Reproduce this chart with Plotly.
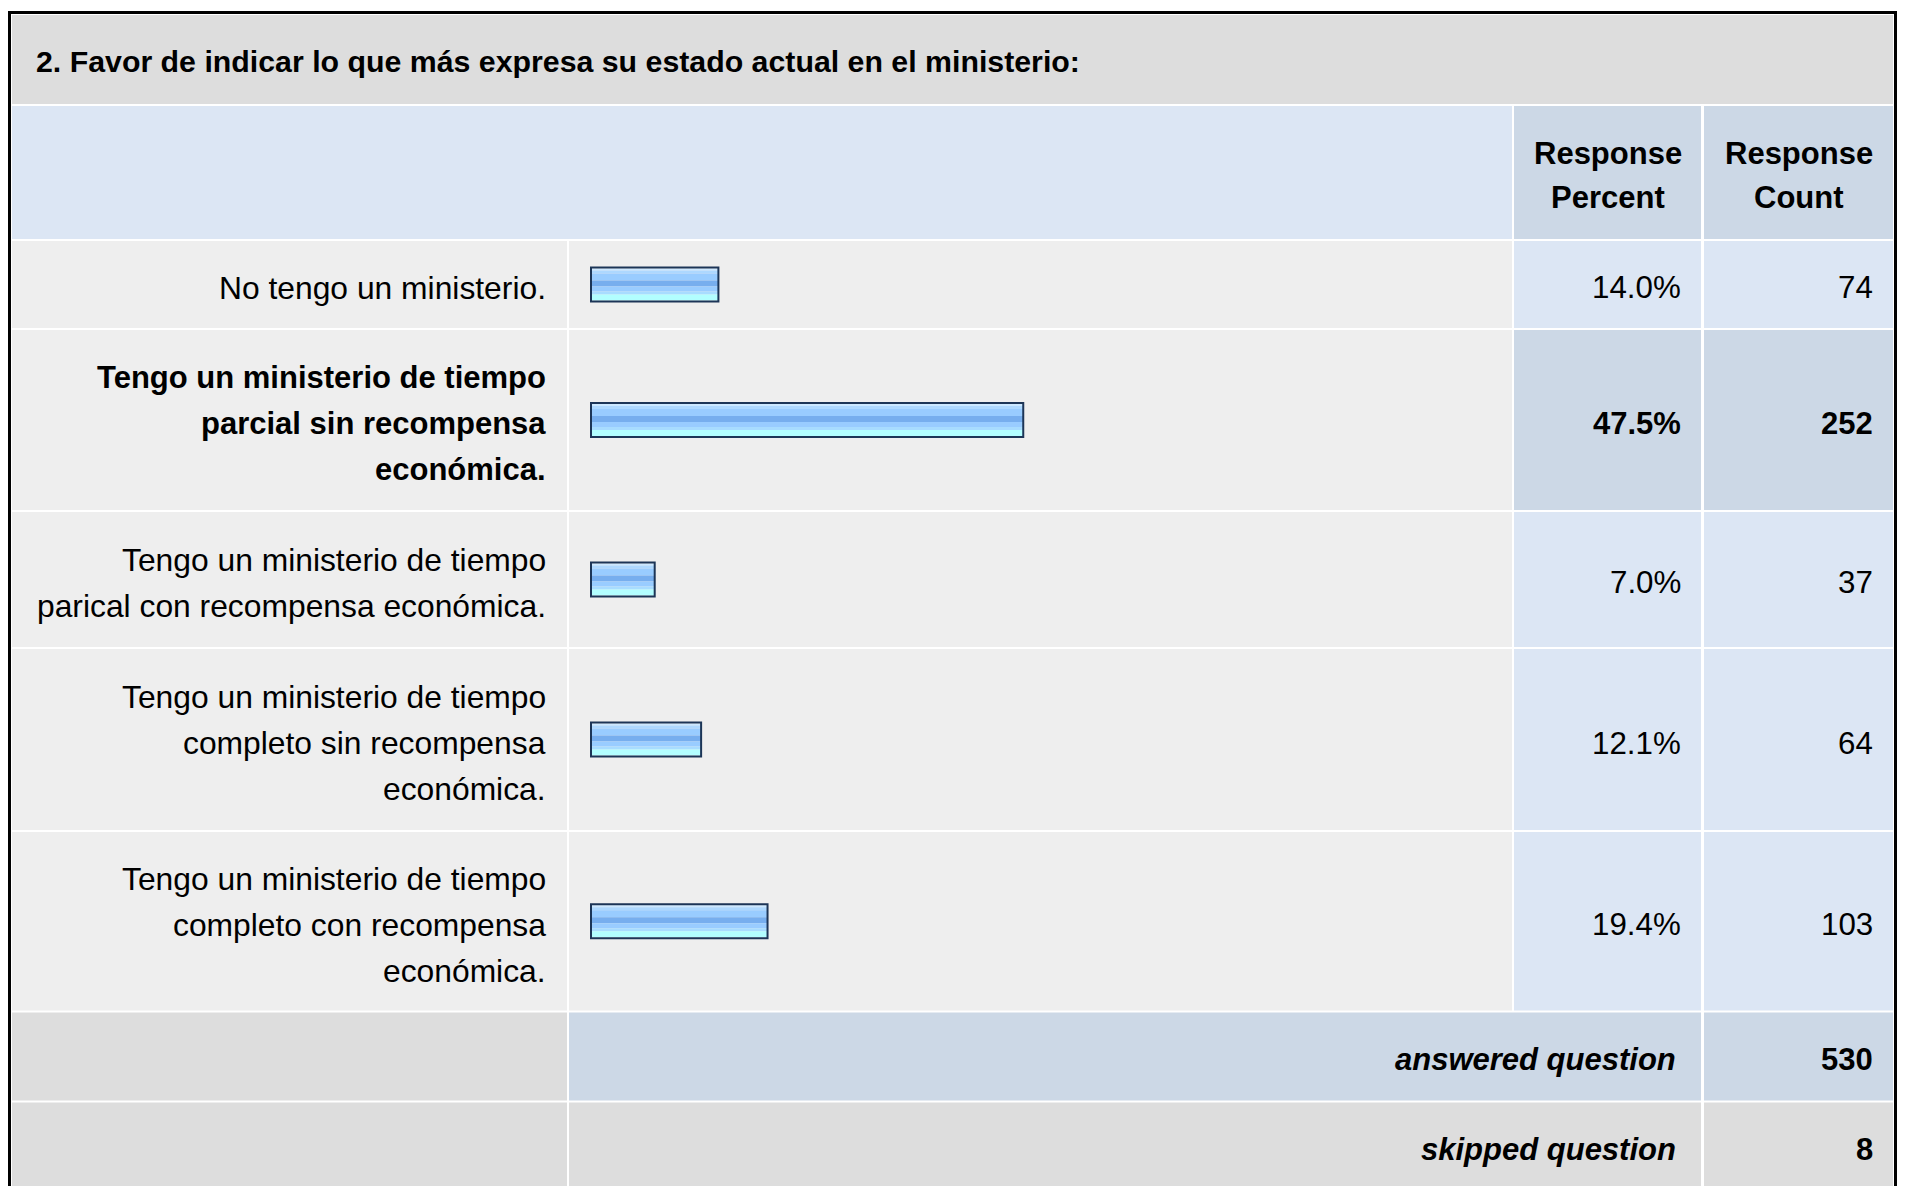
import plotly.graph_objects as go

# ---------------- data ----------------
TITLE = "2. Favor de indicar lo que más expresa su estado actual en el ministerio:"
answer_labels = [
    "No tengo un ministerio.",
    "Tengo un ministerio de tiempo<br>parcial sin recompensa<br>económica.",
    "Tengo un ministerio de tiempo<br>parical con recompensa económica.",
    "Tengo un ministerio de tiempo<br>completo sin recompensa<br>económica.",
    "Tengo un ministerio de tiempo<br>completo con recompensa<br>económica.",
]
response_percent = [14.0, 47.5, 7.0, 12.1, 19.4]
response_count = [74, 252, 37, 64, 103]
header_labels = ["Response<br>Percent", "Response<br>Count"]
summary_labels = ["answered question", "skipped question"]
summary_values = [530, 8]

# ---------------- layout constants ----------------
W, H = 1907, 1186
FONT = "Liberation Sans, Arial, Helvetica, sans-serif"
FS = 31
FS_LAB = 31.8
FS_NUM = 31.3
LINE = 46
C_LAB = (12, 567)
C_BAR = (569, 1512)
C_PCT = (1514, 1701)
C_CNT = (1704, 1893)
TITLE_Y = (15, 104)
HEAD_Y = (106, 239)
SEPS = [240, 329, 511, 648, 831, 1011.5, 1101.5, 1192]
BAR_X0 = 591          # pixel where 0% sits
PX_PER_PCT = 9.1      # pixel per percent
BAR_IN = 32           # inner bar height (px)

C_TITLE = "#DDDDDD"
C_HEAD = "#DCE6F4"
C_HEAD_DARK = "#CCD8E6"
C_ROW = "#EEEEEE"
C_VAL = "#DCE6F4"
C_VAL_HI = "#CCD8E6"
C_SUM_GRAY = "#DDDDDD"
C_SUM_BLUE = "#CCD8E6"
BAR_EDGE = "#1C3557"
STRIPES = [(2, "#CCE8FF"), (3, "#ADD8FF"), (7, "#99CCFF"), (6, "#77AEEE"),
           (5, "#99CCFF"), (3, "#A8DCFF"), (6, "#B2FEFF")]


def px(x):
    return x / W


def py(y):
    return 1 - y / H


shapes = []
annotations = []


def cell(x0, x1, y0, y1, color):
    shapes.append(dict(type="rect", xref="paper", yref="paper",
                       x0=px(x0), x1=px(x1), y0=py(y0), y1=py(y1),
                       fillcolor=color, line=dict(width=0), layer="below"))


def text(x, y, s, anchor="right", bold=False, italic=False, size=FS):
    if italic:
        s = "<i>" + s + "</i>"
    if bold:
        s = "<b>" + s + "</b>"
    annotations.append(dict(xref="paper", yref="paper", x=px(x), y=py(y),
                            text=s, showarrow=False, xanchor=anchor,
                            yanchor="middle", align=anchor,
                            font=dict(family=FONT, size=size, color="#000000")))


def multiline(x, yc, s, anchor="right", bold=False, spacing=LINE, size=FS):
    lines = s.split("<br>")
    n = len(lines)
    for j, ln in enumerate(lines):
        text(x, yc + (j - (n - 1) / 2) * spacing, ln, anchor=anchor, bold=bold, size=size)


# title band
cell(C_LAB[0], C_CNT[1], TITLE_Y[0], TITLE_Y[1], C_TITLE)
text(34, 62, TITLE, anchor="left", bold=True, size=30.3)

# header band
cell(C_LAB[0], C_BAR[1], HEAD_Y[0], HEAD_Y[1], C_HEAD)
cell(C_PCT[0], C_PCT[1], HEAD_Y[0], HEAD_Y[1], C_HEAD_DARK)
cell(C_CNT[0], C_CNT[1], HEAD_Y[0], HEAD_Y[1], C_HEAD_DARK)
hc = (HEAD_Y[0] + HEAD_Y[1]) / 2 + 3
multiline((C_PCT[0] + C_PCT[1]) / 2, hc, header_labels[0], anchor="center", bold=True, spacing=45)
multiline((C_CNT[0] + C_CNT[1]) / 2, hc, header_labels[1], anchor="center", bold=True, spacing=45)

# answer rows
hi = response_percent.index(max(response_percent))
centers = []
for i, lab in enumerate(answer_labels):
    y0, y1 = SEPS[i] + 1, SEPS[i + 1] - 1
    yc = (SEPS[i] + SEPS[i + 1]) / 2
    centers.append(yc)
    isb = (i == hi)
    cell(C_LAB[0], C_LAB[1], y0, y1, C_ROW)
    cell(C_BAR[0], C_BAR[1], y0, y1, C_ROW)
    cell(C_PCT[0], C_PCT[1], y0, y1, C_VAL_HI if isb else C_VAL)
    cell(C_CNT[0], C_CNT[1], y0, y1, C_VAL_HI if isb else C_VAL)
    multiline(C_LAB[1] - 19, yc + 3.5, lab, bold=isb, size=FS if isb else FS_LAB)
    text(C_PCT[1] - 18, yc + 3.5, f"{response_percent[i]:.1f}%", bold=isb, size=FS if isb else FS_NUM)
    text(C_CNT[1] - 18, yc + 3.5, f"{response_count[i]}", bold=isb, size=FS if isb else FS_NUM)

# summary rows
n = len(answer_labels)
for k, (lab, val) in enumerate(zip(summary_labels, summary_values)):
    i = n + k
    y0, y1 = SEPS[i] + 1, SEPS[i + 1] - 1
    yc = (SEPS[i] + SEPS[i + 1]) / 2
    mid = C_SUM_BLUE if k == 0 else C_SUM_GRAY
    cell(C_LAB[0], C_LAB[1], y0, y1, C_SUM_GRAY)
    cell(C_BAR[0], C_PCT[1], y0, y1, mid)
    cell(C_CNT[0], C_CNT[1], y0, y1, mid)
    text(C_PCT[1] - 23, yc + 2.5, lab, bold=True, italic=True)
    text(C_CNT[1] - 18, yc + 2.5, f"{val}", bold=True)

# outer frame
shapes.append(dict(type="rect", xref="paper", yref="paper",
                   x0=px(9.5), x1=px(1895.5), y0=py(12.5), y1=py(1300),
                   line=dict(color="#000000", width=3), fillcolor="rgba(0,0,0,0)",
                   layer="above"))

# ---------------- bars ----------------
fig = go.Figure()
cum = 0
for t, col in STRIPES:
    dy = -BAR_IN / 2 + cum + t / 2
    cum += t
    fig.add_trace(go.Bar(orientation="h", x=response_percent,
                         y=[c + dy for c in centers], width=t, base=0,
                         marker=dict(color=col, line=dict(width=0)),
                         hoverinfo="skip", showlegend=False))
fig.add_trace(go.Bar(orientation="h", x=response_percent, y=centers,
                     width=BAR_IN + 2, base=0,
                     marker=dict(color="rgba(0,0,0,0)",
                                 line=dict(color=BAR_EDGE, width=2)),
                     hoverinfo="skip", showlegend=False))

fig.update_layout(
    width=W, height=H, margin=dict(l=0, r=0, t=0, b=0),
    paper_bgcolor="#FFFFFF", plot_bgcolor="rgba(0,0,0,0)",
    barmode="overlay", showlegend=False, hovermode=False,
    xaxis=dict(range=[-BAR_X0 / PX_PER_PCT, (W - BAR_X0) / PX_PER_PCT],
               visible=False, fixedrange=True, domain=[0, 1]),
    yaxis=dict(range=[H, 0], visible=False, fixedrange=True, domain=[0, 1]),
    shapes=shapes, annotations=annotations,
)

fig.write_html("out.html", config={"displayModeBar": False},
               post_script="document.body.style.margin='0';document.body.style.overflow='hidden';")
